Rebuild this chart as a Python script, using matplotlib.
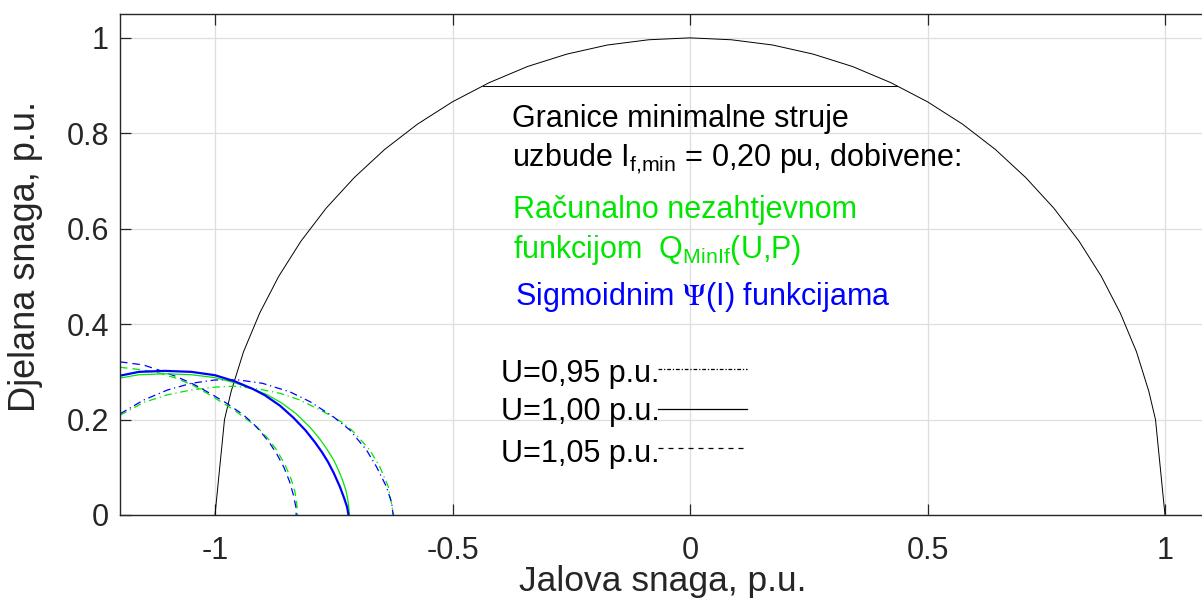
import matplotlib
matplotlib.use("Agg")
import matplotlib.pyplot as plt

plt.rcParams['font.family'] = ['Liberation Sans', 'DejaVu Sans']
plt.rcParams['axes.unicode_minus'] = False
plt.rcParams['mathtext.fontset'] = 'stix'
plt.rcParams['mathtext.default'] = 'regular'

# ---------------- data ----------------
# capability (P-Q) diagram boundary
cap_q = [-1.000, -0.980, -0.966, -0.940, -0.906, -0.866, -0.819, -0.766, -0.707, -0.643,
         -0.574, -0.500, -0.423, -0.342, -0.259, -0.174, -0.087, 0.000, 0.087, 0.174,
         0.259, 0.342, 0.423, 0.500, 0.574, 0.643, 0.707, 0.766, 0.819, 0.866,
         0.906, 0.940, 0.966, 0.980, 1.000]
cap_p = [0.000, 0.200, 0.259, 0.342, 0.423, 0.500, 0.574, 0.643, 0.707, 0.766,
         0.819, 0.866, 0.906, 0.940, 0.966, 0.985, 0.996, 1.000, 0.996, 0.985,
         0.966, 0.940, 0.906, 0.866, 0.819, 0.766, 0.707, 0.643, 0.574, 0.500,
         0.423, 0.342, 0.259, 0.200, 0.000]
turb_q = [-0.436, 0.436]
turb_p = [0.900, 0.900]

# U = 1.00 p.u.
psi_100_q = [-1.20, -1.16, -1.105, -1.05, -1.00, -0.958, -0.92, -0.895, -0.863, -0.835,
             -0.81, -0.79, -0.775, -0.762, -0.75, -0.737, -0.728, -0.722, -0.719]
psi_100_p = [0.292, 0.300, 0.302, 0.300, 0.293, 0.280, 0.264, 0.251, 0.229, 0.204,
             0.178, 0.153, 0.132, 0.111, 0.088, 0.059, 0.035, 0.017, 0.000]
qmin_100_q = [-1.20, -1.16, -1.105, -1.05, -1.00, -0.958, -0.92, -0.89, -0.86, -0.83,
              -0.80, -0.78, -0.765, -0.75, -0.74, -0.731, -0.724, -0.72, -0.718, -0.717]
qmin_100_p = [0.287, 0.294, 0.296, 0.294, 0.288, 0.277, 0.264, 0.252, 0.235, 0.213,
              0.184, 0.160, 0.139, 0.115, 0.094, 0.072, 0.050, 0.030, 0.013, 0.000]

# U = 1.05 p.u.
psi_105_q = [-1.20, -1.151, -1.116, -1.081, -1.045, -1.0105, -0.975, -0.94, -0.92, -0.905,
             -0.885, -0.87, -0.855, -0.843, -0.835, -0.83, -0.829]
psi_105_p = [0.321, 0.3145, 0.303, 0.290, 0.274, 0.255, 0.234, 0.2096, 0.192, 0.176,
             0.151, 0.128, 0.100, 0.070, 0.042, 0.018, 0.000]
qmin_105_q = [-1.20, -1.151, -1.116, -1.081, -1.045, -1.0105, -0.96, -0.912, -0.89, -0.87,
              -0.852, -0.84, -0.832, -0.828, -0.826]
qmin_105_p = [0.3096, 0.304, 0.297, 0.2865, 0.271, 0.2516, 0.220, 0.185, 0.162, 0.136,
              0.104, 0.076, 0.050, 0.025, 0.000]

# U = 0.95 p.u.
psi_095_q = [-1.20, -1.15, -1.10, -1.05, -1.00, -0.95, -0.90, -0.842, -0.80, -0.751,
             -0.716, -0.681, -0.66, -0.639, -0.628, -0.625]
psi_095_p = [0.212, 0.241, 0.262, 0.276, 0.283, 0.283, 0.276, 0.258, 0.2375, 0.206,
             0.178, 0.136, 0.101, 0.059, 0.025, 0.000]
qmin_095_q = [-1.20, -1.15, -1.10, -1.05, -1.00, -0.958, -0.905, -0.863, -0.821, -0.772,
              -0.73, -0.709, -0.674, -0.653, -0.635, -0.624]
qmin_095_p = [0.209, 0.236, 0.252, 0.262, 0.268, 0.270, 0.2635, 0.255, 0.241, 0.2166,
              0.193, 0.175, 0.136, 0.101, 0.059, 0.000]

x_ticks = [-1, -0.5, 0, 0.5, 1]
x_tick_labels = ['-1', '-0.5', '0', '0.5', '1']
y_ticks = [0, 0.2, 0.4, 0.6, 0.8, 1]
y_tick_labels = ['0', '0.2', '0.4', '0.6', '0.8', '1']

legend_labels = ['U=0,95 p.u.', 'U=1,00 p.u.', 'U=1,05 p.u.']

# ---------------- figure ----------------
W, H = 1202, 601
fig = plt.figure(figsize=(W / 100, H / 100), dpi=100)
ax = fig.add_axes([120 / W, (H - 515) / H, (1212.5 - 120) / W, (515 - 14) / H])
ax.set_xlim(-1.2, 1.1)
ax.set_ylim(0, 1.05)

ax.grid(True, color='#dedede', linewidth=0.9)
ax.set_axisbelow(True)

BLUE = '#0000FF'
GREEN = '#00E600'
DASH = (0, (6, 4))
DASHDOT = (0, (6, 3, 1, 3))

# capability curve
ax.plot(cap_q, cap_p, color='black', linewidth=0.7)
ax.plot(turb_q, turb_p, color='black', linewidth=0.7)

# curves
ax.plot(qmin_095_q, qmin_095_p, color=GREEN, linewidth=0.9, linestyle=DASHDOT)
ax.plot(psi_095_q, psi_095_p, color=BLUE, linewidth=0.9, linestyle=DASHDOT)
ax.plot(qmin_105_q, qmin_105_p, color=GREEN, linewidth=0.9, linestyle=DASH)
ax.plot(psi_105_q, psi_105_p, color=BLUE, linewidth=0.9, linestyle=DASH)
ax.plot(qmin_100_q, qmin_100_p, color=GREEN, linewidth=0.9)
ax.plot(psi_100_q, psi_100_p, color=BLUE, linewidth=1.6)

# ticks
ax.set_xticks(x_ticks)
ax.set_xticklabels(x_tick_labels)
ax.set_yticks(y_ticks)
ax.set_yticklabels(y_tick_labels)
ax.tick_params(axis='both', direction='in', length=8, width=0.9, colors='#262626',
               labelsize=22, top=True, right=True)
ax.tick_params(axis='x', pad=15)
ax.tick_params(axis='y', pad=8)
for s in ax.spines.values():
    s.set_color('#262626')
    s.set_linewidth(1.0)

# axis labels
fig.text(663 / W, 1 - 582 / H, 'Jalova snaga, p.u.', ha='center', va='center',
         fontsize=25.5, color='#262626')
fig.text(26 / W, 1 - 256 / H, 'Djelana snaga, p.u.', ha='center', va='center',
         rotation=90, fontsize=26, color='#262626')

# annotations
ax.text(-0.375, 0.814, 'Granice minimalne struje', fontsize=22, color='black',
        ha='left', va='baseline')
ax.text(-0.375, 0.730, 'uzbude I$_{f{,}min}$ = 0,20 pu, dobivene:', fontsize=22,
        color='black', ha='left', va='baseline')
ax.text(-0.372, 0.622, 'Računalno nezahtjevnom', fontsize=22, color=GREEN,
        ha='left', va='baseline')
ax.text(-0.372, 0.538, 'funkcijom  Q$_{MinIf}$(U,P)', fontsize=22, color=GREEN,
        ha='left', va='baseline')
ax.text(-0.368, 0.440, r'Sigmoidnim $\mathrm{\Psi}$(I) funkcijama', fontsize=22,
        color=BLUE, ha='left', va='baseline')

# legend-like labels with sample lines
leg_y = [0.2795, 0.199, 0.112]
line_y = [0.3054, 0.2216, 0.140]
styles = [(0, (3, 1.5, 1, 1.5)), '-', (0, (4, 4))]
for lab, ty, ly, ls in zip(legend_labels, leg_y, line_y, styles):
    ax.text(-0.398, ty, lab, fontsize=22, color='black', ha='left', va='baseline')
    ax.plot([-0.068, 0.12], [ly, ly], color='black', linewidth=0.9, linestyle=ls)

fig.savefig('out.png', dpi=100)
